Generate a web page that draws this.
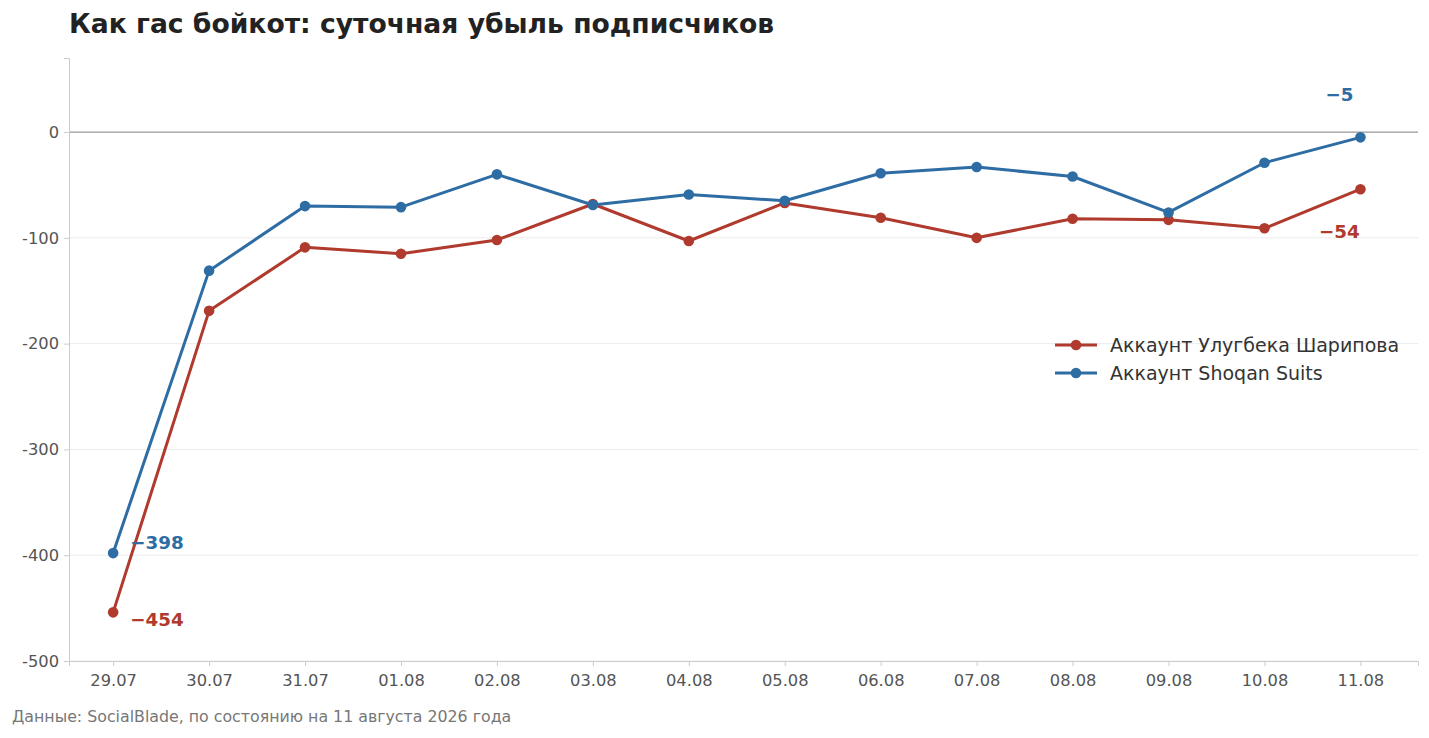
<!DOCTYPE html>
<html>
<head>
<meta charset="utf-8">
<script src="https://cdn.jsdelivr.net/npm/d3@7"></script>
<style>
  body { margin: 0; background: #fff; }
  svg { font-family: 'DejaVu Sans', sans-serif; }
</style>
</head>
<body>
<div id="chart"></div>
<script>
const dates = ['29.07', '30.07', '31.07', '01.08', '02.08', '03.08', '04.08',
  '05.08', '06.08', '07.08', '08.08', '09.08', '10.08', '11.08']
const sharipov = [-454, -169, -109, -115, -102, -68, -103, -67, -81, -100, -82, -83, -91, -54]
const shoqan = [-398, -131, -70, -71, -40, -69, -59, -65, -39, -33, -42, -76, -29, -5]
const yTicks = [0, -100, -200, -300, -400, -500]

const series = [
  { name: 'Аккаунт Улугбека Шарипова', values: sharipov, color: '#b03a2e' },
  { name: 'Аккаунт Shoqan Suits', values: shoqan, color: '#2e6da4' }
]

const width = 1429
const height = 738
const margin = { top: 58, left: 69, right: 11, bottom: 77 }

const svg = d3
  .select('#chart')
  .append('svg')
  .attr('width', width)
  .attr('height', height)

const xScale = d3
  .scaleLinear()
  .domain([-0.46, dates.length - 1 + 0.6])
  .range([margin.left, width - margin.right])

const yScale = d3
  .scaleLinear()
  .domain([-500, 70])
  .range([height - margin.bottom, margin.top])

// grid
svg
  .selectAll('.grid')
  .data(yTicks.filter(d => d !== 0))
  .enter()
  .append('line')
  .attr('class', 'grid')
  .attr('x1', margin.left)
  .attr('x2', width - margin.right)
  .attr('y1', d => yScale(d))
  .attr('y2', d => yScale(d))
  .attr('stroke', '#ebebeb')
  .attr('stroke-width', 1)

svg
  .append('line')
  .attr('x1', margin.left)
  .attr('x2', width - margin.right)
  .attr('y1', yScale(0))
  .attr('y2', yScale(0))
  .attr('stroke', '#999')
  .attr('stroke-width', 1.2)

// axes
const yAxis = d3
  .axisLeft(yScale)
  .tickValues(yTicks)
  .tickSize(5)
  .tickPadding(5)
  .tickFormat(d => String(d))

const xAxis = d3
  .axisBottom(xScale)
  .tickValues(d3.range(dates.length))
  .tickSize(5)
  .tickPadding(8)
  .tickFormat(i => dates[i])

const gy = svg
  .append('g')
  .attr('transform', 'translate(' + margin.left + ',0)')
  .call(yAxis)

const gx = svg
  .append('g')
  .attr('transform', 'translate(0,' + (height - margin.bottom) + ')')
  .call(xAxis)

;[gx, gy].forEach(g => {
  g.select('.domain').attr('stroke', '#ccc')
  g.selectAll('.tick line').attr('stroke', '#ccc')
  g.selectAll('.tick text')
    .attr('fill', '#555')
    .attr('font-size', 16.3)
    .attr('font-family', 'DejaVu Sans, sans-serif')
})

// lines
const line = d3
  .line()
  .x((d, i) => xScale(i))
  .y(d => yScale(d))

series.forEach(s => {
  svg
    .append('path')
    .datum(s.values)
    .attr('d', line)
    .attr('fill', 'none')
    .attr('stroke', s.color)
    .attr('stroke-width', 3)
    .attr('stroke-linejoin', 'round')

  svg
    .selectAll(null)
    .data(s.values)
    .enter()
    .append('circle')
    .attr('cx', (d, i) => xScale(i))
    .attr('cy', d => yScale(d))
    .attr('r', 5.3)
    .attr('fill', s.color)
})

// end labels
const fmt = v => '\u2212' + Math.abs(v)
const last = dates.length - 1

function label(value, x, y, color, anchor) {
  svg
    .append('text')
    .attr('x', x)
    .attr('y', y)
    .attr('text-anchor', anchor)
    .attr('fill', color)
    .attr('font-size', 18.3)
    .attr('font-weight', 700)
    .text(fmt(value))
}

label(sharipov[0], xScale(0) + 17, yScale(sharipov[0]) + 14, series[0].color, 'start')
label(shoqan[0], xScale(0) + 17, yScale(shoqan[0]) - 4, series[1].color, 'start')
label(sharipov[last], xScale(last) - 21, yScale(sharipov[last]) + 49, series[0].color, 'middle')
label(shoqan[last], xScale(last) - 21, yScale(shoqan[last]) - 36, series[1].color, 'middle')

// legend
const legend = svg
  .append('g')
  .attr('transform', 'translate(1055,345)')

series.forEach((s, i) => {
  const g = legend.append('g').attr('transform', 'translate(0,' + i * 28 + ')')
  g.append('line')
    .attr('x1', 0)
    .attr('x2', 42)
    .attr('stroke', s.color)
    .attr('stroke-width', 3)
  g.append('circle')
    .attr('cx', 21)
    .attr('r', 5.3)
    .attr('fill', s.color)
  g.append('text')
    .attr('x', 55)
    .attr('dy', '0.35em')
    .attr('fill', '#333')
    .attr('font-size', 19)
    .text(s.name)
})

// title and source
svg
  .append('text')
  .attr('x', 69)
  .attr('y', 33)
  .attr('fill', '#222')
  .attr('font-size', 26.6)
  .attr('font-weight', 700)
  .text('Как гас бойкот: суточная убыль подписчиков')

svg
  .append('text')
  .attr('x', 12)
  .attr('y', 722)
  .attr('fill', '#777')
  .attr('font-size', 15.8)
  .text('Данные: SocialBlade, по состоянию на 11 августа 2026 года')
</script>
</body>
</html>
